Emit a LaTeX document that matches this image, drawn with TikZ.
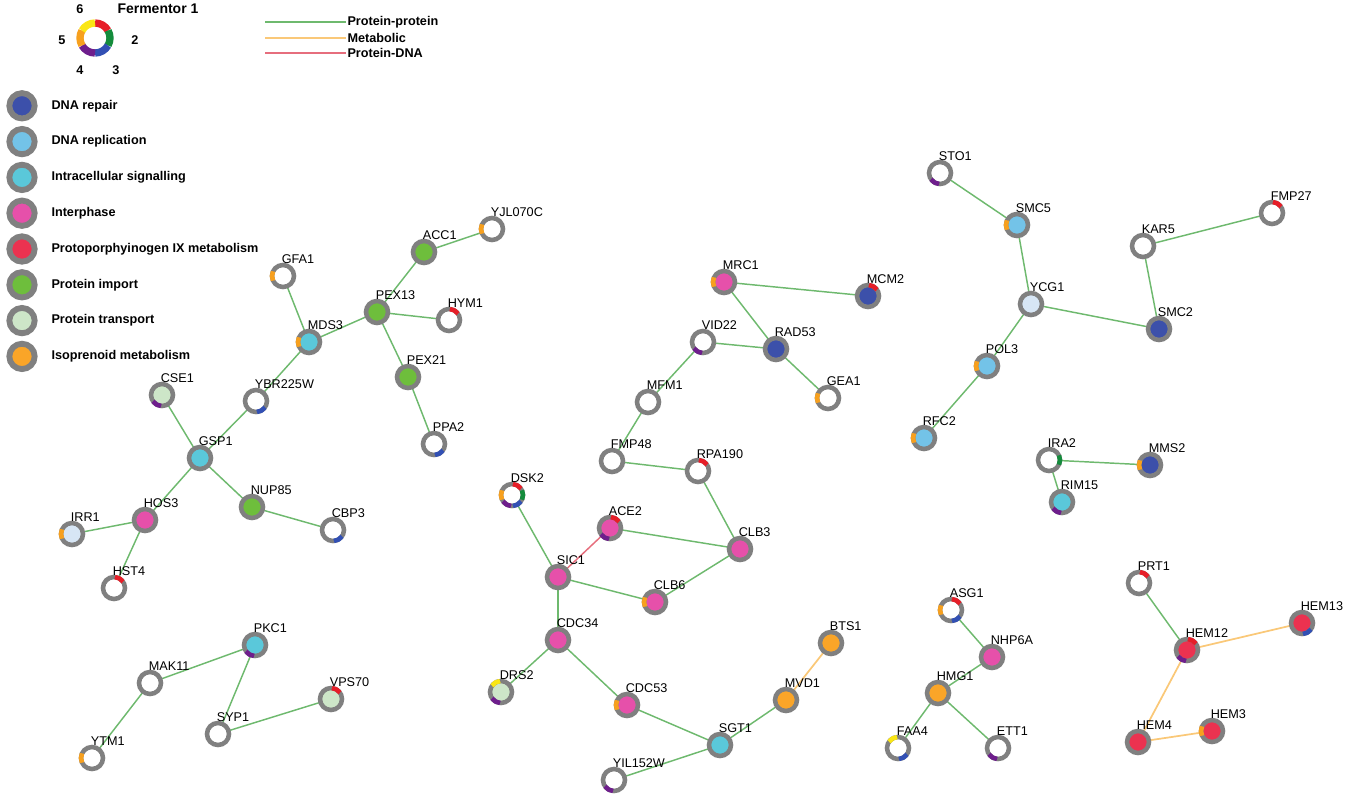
\documentclass[tikz,border=0pt]{standalone}
\usepackage{fontspec}
\setmainfont{Liberation Sans}
\usetikzlibrary{backgrounds}
\definecolor{ferm1}{RGB}{230,30,40}
\definecolor{ferm2}{RGB}{20,140,60}
\definecolor{ferm3}{RGB}{50,80,180}
\definecolor{ferm4}{RGB}{110,30,140}
\definecolor{ferm5}{RGB}{247,160,30}
\definecolor{ferm6}{RGB}{250,230,20}
\definecolor{repair}{RGB}{60,80,170}
\definecolor{replic}{RGB}{115,195,232}
\definecolor{signal}{RGB}{90,200,218}
\definecolor{inter}{RGB}{230,80,170}
\definecolor{proto}{RGB}{235,50,80}
\definecolor{import}{RGB}{110,190,60}
\definecolor{transp}{RGB}{205,230,200}
\definecolor{isopr}{RGB}{250,165,40}
\definecolor{paleb}{RGB}{215,230,245}
\definecolor{ringgray}{RGB}{128,128,128}
\definecolor{ppi}{RGB}{110,185,110}
\definecolor{metab}{RGB}{250,200,120}
\definecolor{pdna}{RGB}{230,110,125}
\tikzset{every picture/.style={line width=0.75pt}}
\tikzset{
  gene/.style={circle,draw=ringgray,line width=3.4pt,minimum size=16.5pt,inner sep=0pt},
  seg/.style={line width=3.4pt},
  lbl/.style={inner sep=0.75pt,font=\fontsize{9.5}{11}\selectfont},
  leg/.style={inner sep=0.75pt,font=\bfseries\fontsize{9.5}{11}\selectfont},
  pp/.style={draw=ppi,line width=1.1pt},
  mb/.style={draw=metab,line width=1.3pt},
  pd/.style={draw=pdna,line width=1.1pt}
}
% gene node: name, x, y, fill, fermentor segments (0 = none)
\newcommand{\gene}[5]{%
  \node[gene,fill=#4] (#1) at (#2,#3) {};
  \foreach \k in {#5}{\ifnum\k>0
    \draw[seg,ferm\k] ([shift={(60*\k-145:11)}]#2,#3) arc[start angle=60*\k-145,end angle=60*\k-95,radius=11];
  \fi}
  \node[lbl,anchor=south west] (#1-t) at ([xshift=-2pt,yshift=2pt]#1.north) {#1};
}
\begin{document}
\begin{tikzpicture}[x=0.75pt,y=0.75pt,yscale=-1,xscale=1]
\useasboundingbox (0,0) rectangle (1350,800);

% fermentor legend
\foreach \k in {1,...,6}
  \draw[line width=5.5pt,ferm\k] ([shift={(60*\k-150:15)}]95,38) arc[start angle=60*\k-150,end angle=60*\k-90,radius=15];
\node[leg] (f6) at (80,9) {6};
\node[leg,anchor=west,font=\bfseries\fontsize{10.5}{12}\selectfont] (f1) at (116,9) {Fermentor 1};
\node[leg] (f2) at (135,40) {2};
\node[leg] (f3) at (116,70) {3};
\node[leg] (f4) at (80,70) {4};
\node[leg] (f5) at (62,40) {5};

% edge legend
\coordinate (e1) at (265,22); \node[leg,anchor=west] (t1) at (346,22) {Protein-protein};
\coordinate (e2) at (265,38); \node[leg,anchor=west] (t2) at (346,38) {Metabolic};
\coordinate (e3) at (265,53); \node[leg,anchor=west] (t3) at (346,53) {Protein-DNA};
\draw[pp] (e1) -- (t1.west);
\draw[mb] (e2) -- (t2.west);
\draw[pd] (e3) -- (t3.west);

% process legend
\foreach \c/\t [count=\i] in {repair/DNA repair,replic/DNA replication,signal/Intracellular signalling,inter/Interphase,proto/Protoporphyinogen IX metabolism,import/Protein import,transp/Protein transport,isopr/Isoprenoid metabolism}{
  \node[gene,fill=\c,minimum size=19pt,line width=4.4pt] (p\i) at (22,70+35.8*\i) {};
  \node[leg,anchor=west] (pt\i) at (50,70+35.8*\i) {\t};
}

% genes
\gene{GFA1}{283}{276}{white}{5}
\gene{ACC1}{424}{252}{import}{0}
\gene{YJL070C}{492}{229}{white}{5}
\gene{PEX13}{377}{312}{import}{0}
\gene{HYM1}{449}{320}{white}{1}
\gene{MDS3}{309}{342}{signal}{5}
\gene{PEX21}{408}{377}{import}{0}
\gene{CSE1}{162}{395}{transp}{4}
\gene{YBR225W}{256}{401}{white}{3}
\gene{PPA2}{434}{444}{white}{3}
\gene{GSP1}{200}{458}{signal}{0}
\gene{NUP85}{252}{507}{import}{0}
\gene{CBP3}{333}{530}{white}{3}
\gene{HOS3}{145}{520}{inter}{0}
\gene{IRR1}{72}{534}{paleb}{5}
\gene{HST4}{114}{588}{white}{1}
\gene{PKC1}{255}{645}{signal}{4}
\gene{MAK11}{150}{683}{white}{0}
\gene{VPS70}{331}{699}{transp}{1}
\gene{SYP1}{218}{734}{white}{0}
\gene{YTM1}{92}{758}{white}{5}
\gene{DSK2}{512}{495}{white}{1,2,3,4,5}
\gene{ACE2}{610}{528}{inter}{1,4}
\gene{CLB3}{740}{549}{inter}{0}
\gene{SIC1}{558}{577}{inter}{0}
\gene{CLB6}{655}{602}{inter}{5}
\gene{CDC34}{558}{640}{inter}{0}
\gene{DRS2}{501}{692}{transp}{6,4}
\gene{CDC53}{627}{705}{inter}{5}
\gene{BTS1}{831}{643}{isopr}{0}
\gene{MVD1}{786}{700}{isopr}{0}
\gene{SGT1}{720}{745}{signal}{0}
\gene{YIL152W}{614}{780}{white}{4}
\gene{MRC1}{724}{282}{inter}{5}
\gene{MCM2}{868}{296}{repair}{1}
\gene{VID22}{703}{342}{white}{4}
\gene{RAD53}{776}{349}{repair}{0}
\gene{GEA1}{828}{398}{white}{5}
\gene{MFM1}{648}{402}{white}{0}
\gene{FMP48}{612}{461}{white}{0}
\gene{RPA190}{698}{471}{white}{1}
\gene{STO1}{940}{173}{white}{4}
\gene{SMC5}{1017}{225}{replic}{5}
\gene{KAR5}{1143}{246}{white}{0}
\gene{FMP27}{1272}{213}{white}{1}
\gene{YCG1}{1031}{304}{paleb}{0}
\gene{SMC2}{1159}{329}{repair}{0}
\gene{POL3}{987}{366}{replic}{5}
\gene{RFC2}{924}{438}{replic}{5}
\gene{IRA2}{1049}{460}{white}{2}
\gene{MMS2}{1150}{465}{repair}{5}
\gene{RIM15}{1062}{502}{signal}{4}
\gene{ASG1}{951}{610}{white}{1,3,5}
\gene{NHP6A}{992}{657}{inter}{0}
\gene{HMG1}{938}{693}{isopr}{0}
\gene{FAA4}{898}{748}{white}{6,3}
\gene{ETT1}{998}{748}{white}{4}
\gene{PRT1}{1139}{583}{white}{1}
\gene{HEM12}{1187}{650}{proto}{1,4}
\gene{HEM13}{1302}{623}{proto}{3}
\gene{HEM4}{1138}{742}{proto}{0}
\gene{HEM3}{1212}{731}{proto}{5}

% interactions
\begin{pgfonlayer}{background}
\foreach \a/\b in {GFA1/MDS3,MDS3/YBR225W,MDS3/PEX13,PEX13/ACC1,ACC1/YJL070C,PEX13/HYM1,PEX13/PEX21,PEX21/PPA2,YBR225W/GSP1,CSE1/GSP1,GSP1/NUP85,NUP85/CBP3,GSP1/HOS3,HOS3/IRR1,HOS3/HST4,PKC1/MAK11,PKC1/SYP1,MAK11/YTM1,SYP1/VPS70,DSK2/SIC1,ACE2/CLB3,SIC1/CLB6,CLB6/CLB3,CLB3/RPA190,RPA190/FMP48,FMP48/MFM1,MFM1/VID22,VID22/RAD53,RAD53/MRC1,MRC1/MCM2,RAD53/GEA1,SIC1/CDC34,CDC34/DRS2,CDC34/CDC53,CDC53/SGT1,SGT1/YIL152W,SGT1/MVD1,STO1/SMC5,SMC5/YCG1,YCG1/POL3,POL3/RFC2,YCG1/SMC2,SMC2/KAR5,KAR5/FMP27,IRA2/MMS2,IRA2/RIM15,ASG1/NHP6A,NHP6A/HMG1,HMG1/FAA4,HMG1/ETT1,PRT1/HEM12}
  \draw[pp] (\a.center) -- (\b.center);
\foreach \a/\b in {MVD1/BTS1,HEM12/HEM13,HEM12/HEM4,HEM4/HEM3}
  \draw[mb] (\a.center) -- (\b.center);
\draw[pd] (SIC1.center) -- (ACE2.center);
\end{pgfonlayer}
\end{tikzpicture}
\end{document}
